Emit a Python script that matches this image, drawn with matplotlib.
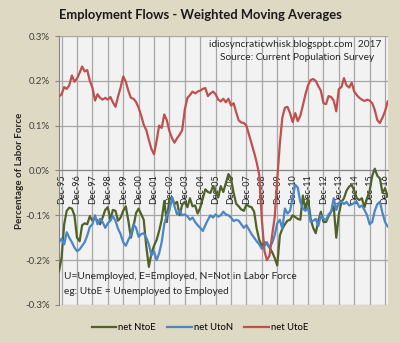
import numpy as np
import pandas as pd
import matplotlib
matplotlib.use('Agg')
import matplotlib.pyplot as plt
import matplotlib.dates as mdates
from matplotlib.ticker import FuncFormatter

plt.rcParams['font.family'] = ['Lato', 'DejaVu Sans']

# bi-monthly points, Oct-95 .. Feb-17 (percent of labor force)
dates = pd.date_range('1995-10-01', periods=129, freq='2MS')

net_NtoE = [-0.225, -0.195, -0.120, -0.090, -0.083, -0.085, -0.100, -0.150, -0.158, -0.122,
            -0.118, -0.120, -0.102, -0.112, -0.105, -0.112, -0.120, -0.105, -0.088, -0.082,
            -0.110, -0.088, -0.090, -0.112, -0.105, -0.090, -0.080, -0.112, -0.150, -0.125,
            -0.095, -0.085, -0.098, -0.110, -0.170, -0.215, -0.185, -0.168, -0.155, -0.135,
            -0.110, -0.068, -0.115, -0.062, -0.060, -0.075, -0.070, -0.100, -0.076, -0.070,
            -0.082, -0.062, -0.080, -0.078, -0.096, -0.083, -0.062, -0.042, -0.048, -0.050,
            -0.035, -0.048, -0.060, -0.035, -0.048, -0.028, -0.008, -0.018, -0.050, -0.074,
            -0.080, -0.087, -0.090, -0.076, -0.080, -0.082, -0.092, -0.130, -0.155, -0.168,
            -0.160, -0.164, -0.172, -0.182, -0.195, -0.212, -0.145, -0.130, -0.120, -0.112,
            -0.110, -0.100, -0.104, -0.108, -0.110, -0.056, -0.088, -0.062, -0.108, -0.128,
            -0.140, -0.112, -0.092, -0.115, -0.115, -0.102, -0.092, -0.080, -0.150, -0.098,
            -0.070, -0.062, -0.045, -0.036, -0.032, -0.045, -0.062, -0.066, -0.062, -0.082,
            -0.062, -0.045, -0.012, 0.004, -0.012, -0.018, -0.050, -0.040, -0.058]

net_UtoN = [-0.160, -0.152, -0.165, -0.138, -0.150, -0.160, -0.172, -0.180, -0.176, -0.168,
            -0.160, -0.145, -0.126, -0.120, -0.100, -0.120, -0.108, -0.115, -0.128, -0.118,
            -0.112, -0.102, -0.112, -0.130, -0.142, -0.160, -0.168, -0.155, -0.143, -0.120,
            -0.128, -0.148, -0.142, -0.140, -0.150, -0.165, -0.190, -0.180, -0.200, -0.185,
            -0.160, -0.120, -0.100, -0.090, -0.060, -0.080, -0.098, -0.090, -0.100, -0.098,
            -0.102, -0.110, -0.105, -0.115, -0.122, -0.128, -0.135, -0.122, -0.110, -0.100,
            -0.105, -0.098, -0.103, -0.100, -0.092, -0.098, -0.100, -0.105, -0.113, -0.110,
            -0.112, -0.120, -0.128, -0.122, -0.132, -0.142, -0.150, -0.158, -0.165, -0.175,
            -0.168, -0.160, -0.172, -0.162, -0.145, -0.118, -0.110, -0.130, -0.085, -0.096,
            -0.090, -0.060, -0.032, -0.038, -0.070, -0.085, -0.090, -0.083, -0.115, -0.112,
            -0.108, -0.124, -0.100, -0.108, -0.110, -0.098, -0.092, -0.062, -0.088, -0.072,
            -0.070, -0.075, -0.070, -0.078, -0.076, -0.072, -0.070, -0.082, -0.078, -0.088,
            -0.100, -0.120, -0.115, -0.090, -0.075, -0.070, -0.095, -0.115, -0.125]

net_UtoE = [0.165, 0.170, 0.186, 0.182, 0.190, 0.212, 0.198, 0.205, 0.218, 0.232,
            0.221, 0.224, 0.200, 0.185, 0.156, 0.170, 0.162, 0.158, 0.162, 0.158,
            0.164, 0.152, 0.142, 0.165, 0.185, 0.210, 0.198, 0.178, 0.162, 0.160,
            0.153, 0.140, 0.122, 0.102, 0.090, 0.068, 0.048, 0.036, 0.066, 0.100,
            0.095, 0.125, 0.112, 0.088, 0.072, 0.062, 0.072, 0.080, 0.090, 0.136,
            0.162, 0.168, 0.176, 0.172, 0.176, 0.178, 0.182, 0.184, 0.166, 0.172,
            0.176, 0.170, 0.158, 0.154, 0.160, 0.152, 0.160, 0.145, 0.150, 0.130,
            0.112, 0.107, 0.106, 0.100, 0.080, 0.060, 0.040, 0.018, -0.010, -0.110,
            -0.180, -0.200, -0.190, -0.145, -0.105, -0.020, 0.060, 0.118, 0.140, 0.142,
            0.128, 0.108, 0.128, 0.110, 0.122, 0.145, 0.170, 0.190, 0.202, 0.204,
            0.200, 0.188, 0.178, 0.150, 0.148, 0.166, 0.164, 0.156, 0.132, 0.182,
            0.186, 0.206, 0.190, 0.185, 0.196, 0.176, 0.168, 0.162, 0.158, 0.155,
            0.158, 0.156, 0.150, 0.135, 0.112, 0.106, 0.118, 0.132, 0.154]

series_names = ['net NtoE', 'net UtoN', 'net UtoE']
series_colors = ['#4F6228', '#4A86C8', '#C0504D']

yticks = [-0.3, -0.2, -0.1, 0.0, 0.1, 0.2, 0.3]
dec_ticks = pd.date_range('1995-12-01', '2016-12-01', freq='12MS')

fig = plt.figure(figsize=(4.0, 3.43), dpi=100, facecolor='#DDD9C3')
ax = fig.add_axes([0.1475, 0.111, 0.8217, 0.784], facecolor='#F2F2F2')

for vals, name, clr in zip([net_NtoE, net_UtoN, net_UtoE], series_names, series_colors):
    ax.plot(dates, vals, color=clr, lw=1.6, label=name, zorder=3)

ax.set_xlim(dates[0], dates[-1])
ax.set_ylim(-0.3, 0.3)
ax.set_yticks(yticks)
ax.yaxis.set_major_formatter(FuncFormatter(lambda v, p: '%.1f%%' % v))
ax.set_xticks(dec_ticks)
ax.xaxis.set_major_formatter(mdates.DateFormatter('%b-%y'))
ax.grid(True, color='#A6A6A6', lw=0.9, zorder=1)

for s in ['top', 'right']:
    ax.spines[s].set_visible(False)
ax.spines['left'].set_color('#868686')
ax.spines['bottom'].set_position(('data', 0))
ax.spines['bottom'].set_color('#868686')

ax.tick_params(axis='y', labelsize=7, colors='#868686', labelcolor='#404040', length=3)
ax.tick_params(axis='x', labelsize=6.5, length=0, pad=3, labelcolor='#202020')
for lbl in ax.get_xticklabels():
    lbl.set_rotation(90)

ax.set_ylabel('Percentage of Labor Force', fontsize=7, fontweight='bold', color='#262626', labelpad=1)

fig.text(0.5, 0.955, 'Employment Flows - Weighted Moving Averages', ha='center', va='center',
         fontsize=9.4, fontweight='bold', color='#1a1a1a')

ax.text(0.982, 0.985, 'idiosyncraticwhisk.blogspot.com  2017', transform=ax.transAxes,
        ha='right', va='top', fontsize=7.3, color='#262626')
ax.text(0.958, 0.935, 'Source: Current Population Survey', transform=ax.transAxes,
        ha='right', va='top', fontsize=7.3, color='#262626')
ax.text(0.015, 0.105, 'U=Unemployed, E=Employed, N=Not in Labor Force', transform=ax.transAxes,
        ha='left', va='center', fontsize=7.3, color='#262626')
ax.text(0.015, 0.05, 'eg: UtoE = Unemployed to Employed', transform=ax.transAxes,
        ha='left', va='center', fontsize=7.3, color='#262626')

fig.legend(loc='center', bbox_to_anchor=(0.5, 0.045), ncol=3, frameon=False, fontsize=6.8,
           handlelength=2.6, handletextpad=0.2, columnspacing=1.2)

fig.savefig('out.png', dpi=100, facecolor=fig.get_facecolor())
